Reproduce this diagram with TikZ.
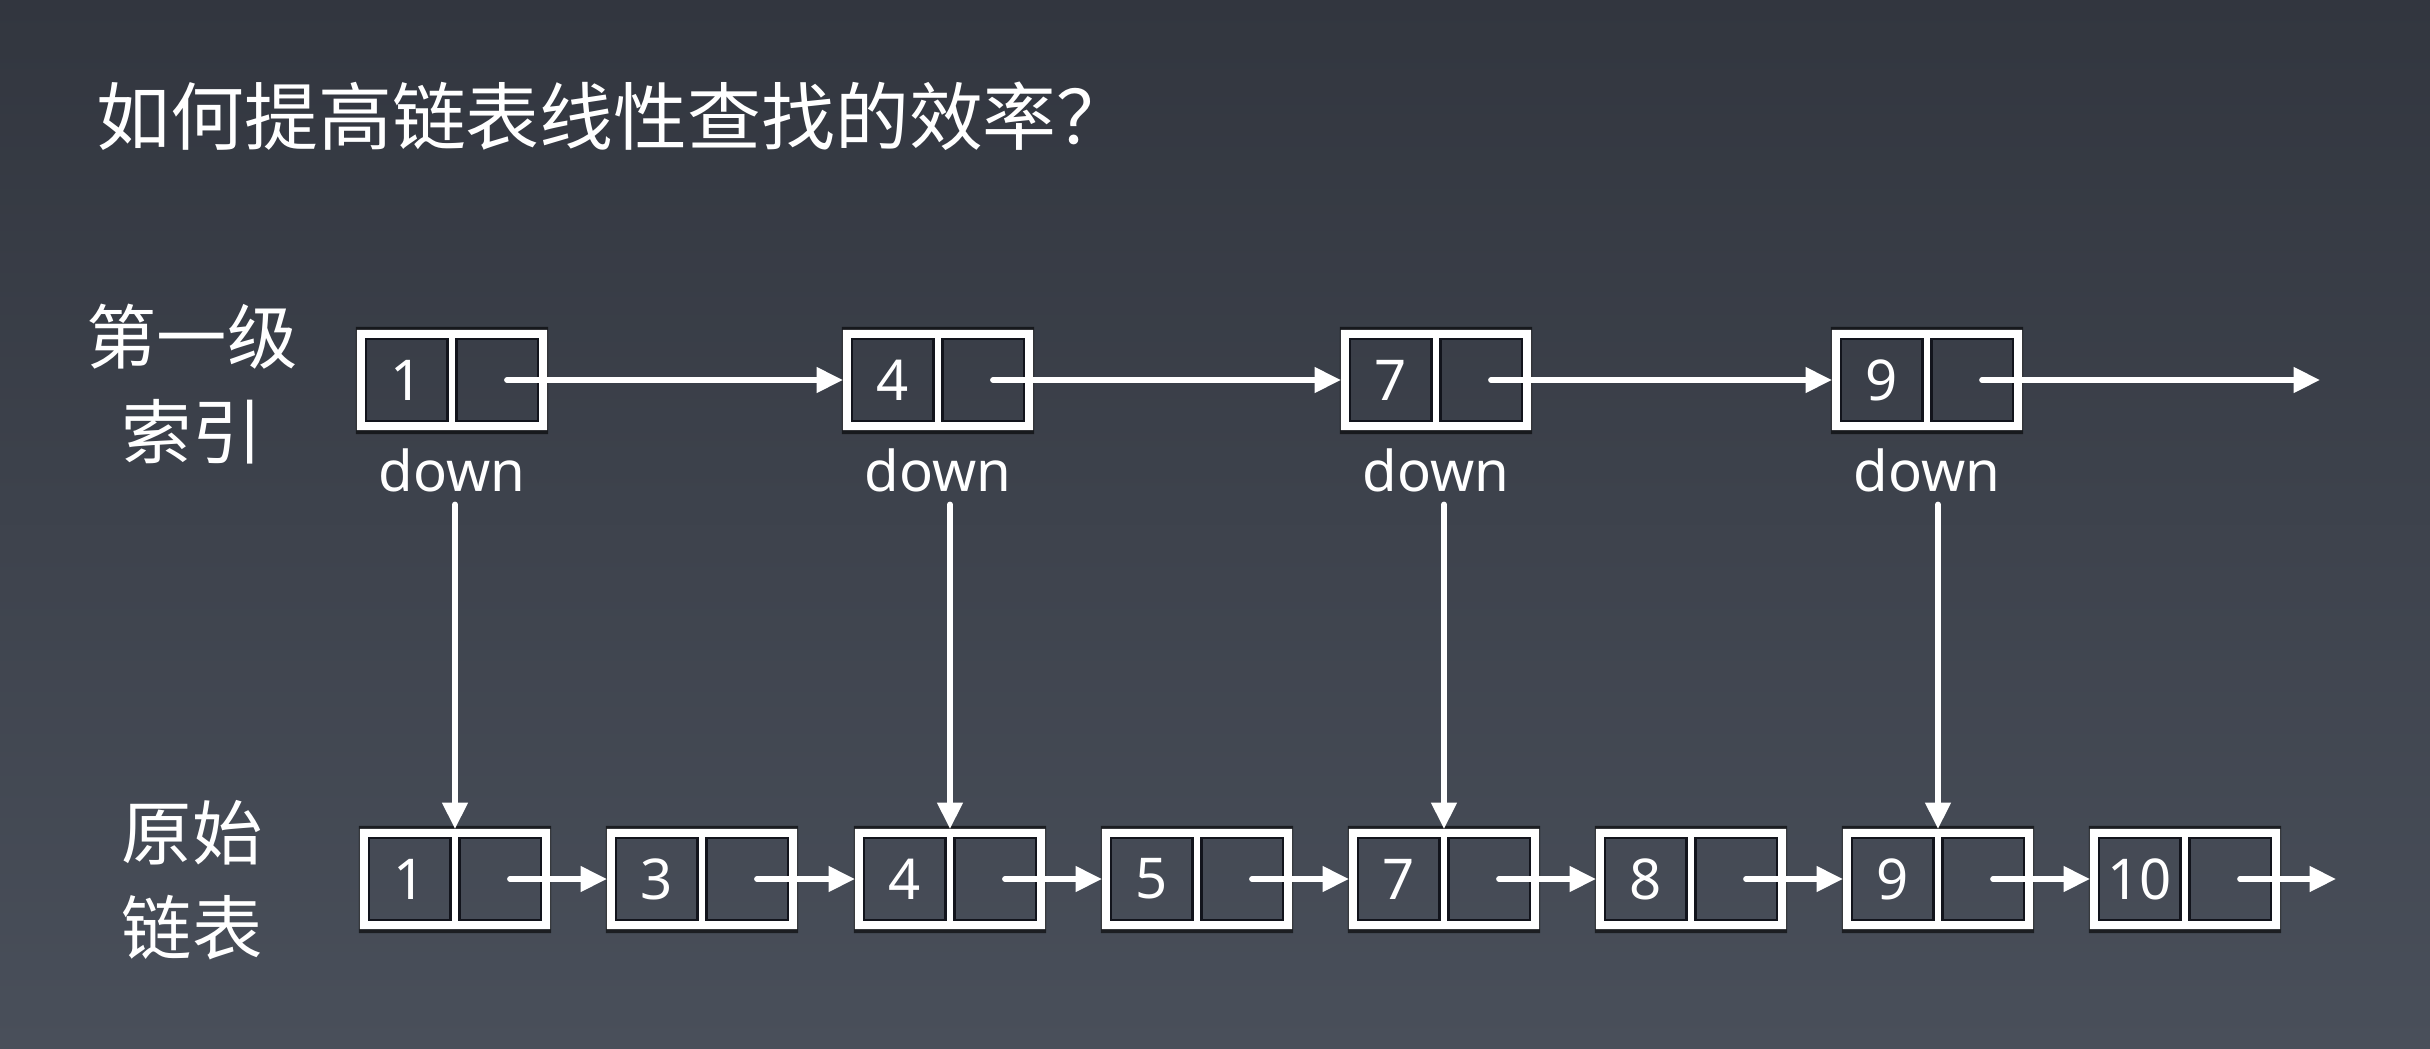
\documentclass[tikz,border=0pt]{standalone}
\usepackage{fontspec}
\usepackage{tikz}
\usetikzlibrary{positioning, arrows.meta, calc}
\newfontfamily\cjk{Noto Sans CJK SC}
\newfontfamily\latinFont{Noto Sans}
\definecolor{slideTop}{RGB}{50,54,63}
\definecolor{slideBottom}{RGB}{73,79,90}
\definecolor{cellLine}{RGB}{18,20,28}
\tikzstyle{slide} = [x = 0.01cm, y = -0.01cm]
\tikzstyle{boxStyle} = [rectangle, minimum width = 1.9cm, minimum height = 1cm, inner sep = 0pt, outer sep = 0pt]
\tikzstyle{boxFill} = [fill=white, even odd rule]
\tikzstyle{boxShadow} = [fill=black, opacity=0.6, even odd rule]
\tikzstyle{cellLineStyle} = [draw=cellLine, line width = 0.6pt]
\tikzstyle{valueText} = [text=white, inner sep = 0pt, font=\latinFont\fontsize{16pt}{18pt}\selectfont]
\tikzstyle{downText} = [text=white, inner sep = 0pt, font=\latinFont\fontsize{16pt}{18pt}\selectfont]
\tikzstyle{labelText} = [text=white, align=center, inner sep = 0pt, font=\cjk\fontsize{20pt}{27pt}\selectfont]
\tikzstyle{titleText} = [text=white, anchor=west, inner sep = 0pt, font=\cjk\fontsize{21pt}{25pt}\selectfont]
\tikzstyle{linkArrow} = [draw=white, line width = 1.6pt, line cap=round, -{Triangle[length=7.5pt, width=7pt]}]
\newcommand{\listNode}[4]{
  \node [boxStyle] (#1) at (#2, #3) {};
  \fill [boxShadow] ($(#1.north west)+(-1,-3)$) rectangle ($(#1.south east)+(1,4)$)
    (#1.north west) rectangle (#1.south east);
  \fill [boxFill] (#1.north west) rectangle (#1.south east)
    ($(#1.north west)+(9,9)$) rectangle ($(#1.south)+(-4.5,-9)$)
    ($(#1.north)+(4.5,9)$) rectangle ($(#1.south east)+(-9,-9)$);
  \draw [cellLineStyle] ($(#1.north west)+(9,9)$) rectangle ($(#1.south)+(-4.5,-9)$);
  \draw [cellLineStyle] ($(#1.north)+(4.5,9)$) rectangle ($(#1.south east)+(-9,-9)$);
  \node [valueText] (#1-val) at ($(#1.west)+(50,0)$) {#4};
  \coordinate (#1-ptr) at ($(#1.west)+(150,0)$);
}
\begin{document}
\begin{tikzpicture}[slide]
  \useasboundingbox (0,0) rectangle (2430,1048);
  \fill [top color=slideTop, bottom color=slideBottom] (0,0) rectangle (2430,1048);

  \node [titleText] (title) at (96,116) {如何提高链表线性查找的效率？};
  \node [labelText] (levelLabel) at (192,384) {第一级\\索引};
  \node [labelText] (baseLabel) at (192,880) {原始\\链表};

  \foreach \val/\xpos in {1/452, 4/938, 7/1436, 9/1927} {
    \listNode{t\val}{\xpos}{380}{\val}
    \node [downText] (t\val-down) at ($(t\val.south)+(0,40)$) {down};
  }
  \foreach \val/\xpos in {1/455, 3/702, 4/950, 5/1197, 7/1444, 8/1691, 9/1938, 10/2185} {
    \listNode{b\val}{\xpos}{879}{\val}
  }
  \coordinate (tEnd) at (2320,380);
  \coordinate (bEnd) at (2336,879);

  \foreach \a/\b in {1/4, 4/7, 7/9} {
    \draw [linkArrow] (t\a-ptr) -- (t\b.west);
  }
  \draw [linkArrow] (t9-ptr) -- (tEnd);
  \foreach \a/\b in {1/3, 3/4, 4/5, 5/7, 7/8, 8/9, 9/10} {
    \draw [linkArrow] (b\a-ptr) -- (b\b.west);
  }
  \draw [linkArrow] (b10-ptr) -- (bEnd);
  \foreach \val in {1, 4, 7, 9} {
    \draw [linkArrow] ($(t\val-down.south -| b\val.north)+(0,12)$) -- (b\val.north);
  }
\end{tikzpicture}
\end{document}
